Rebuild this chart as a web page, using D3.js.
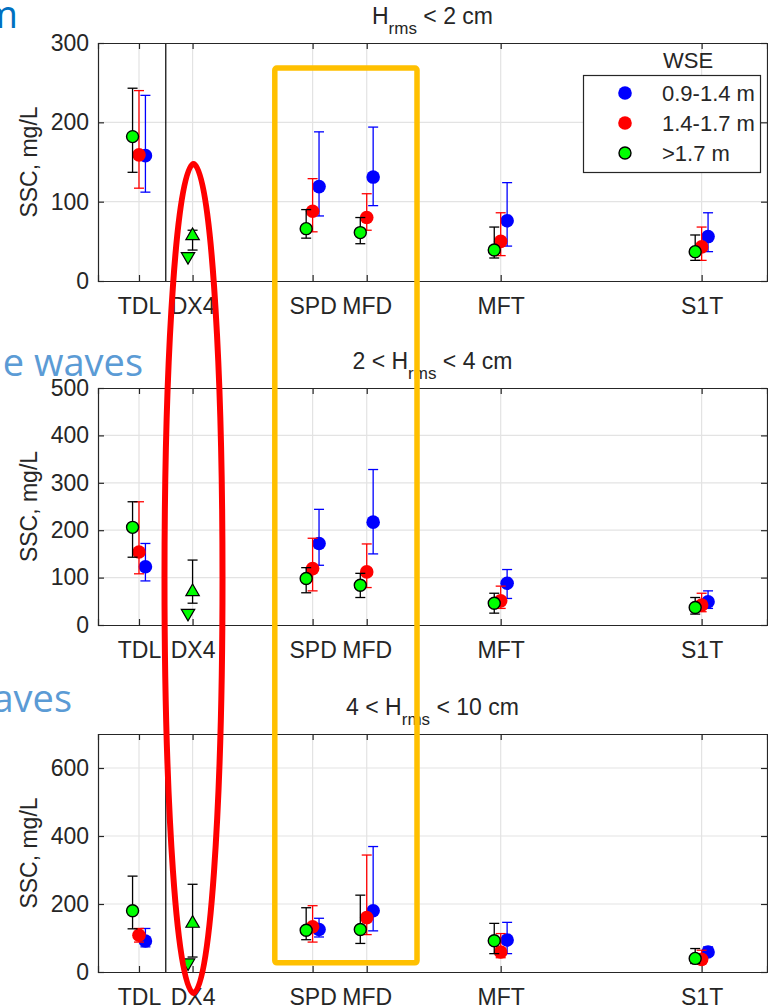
<!DOCTYPE html>
<html>
<head>
<meta charset="utf-8">
<script src="https://cdn.jsdelivr.net/npm/d3@7"></script>
<style>
  html, body { margin: 0; padding: 0; background: #fff; }
  svg { display: block; }
  text { font-family: "Liberation Sans", Arial, Helvetica, sans-serif; fill: #262626; }
</style>
</head>
<body>
<svg id="chart" width="768" height="1008"></svg>
<script>
// Stations along the channel and their plotting positions
const stations = ["TDL", "DX4", "SPD", "MFD", "MFT", "S1T"];
const stationPos = [0, 1, 3.24, 4.25, 6.75, 10.5];
const xDomain = [-0.765, 11.72];
const dividerPos = 0.5;

// Wave-height classes (one panel each)
const panelTitles = [
  { pre: "", sub: "rms", post: " < 2 cm" },
  { pre: "2 < ", sub: "rms", post: " < 4 cm" },
  { pre: "4 < ", sub: "rms", post: " < 10 cm" }
];
const yMax = [300, 500, 700];
const yTicks = [[0, 100, 200, 300], [0, 100, 200, 300, 400, 500], [0, 200, 400, 600]];

// Water-surface elevation classes
const wseLabels = ["0.9-1.4 m", "1.4-1.7 m", ">1.7 m"];
const wseColors = ["#0000ff", "#ff0000", "#00ff00"];
const wseBarColors = ["#0000ff", "#ff0000", "#000000"];
const wseOffset = [0.12, 0, -0.12];

// SSC median [value, low, high] per station (TDL, SPD, MFD, MFT, S1T), per panel
const sscLow = [   // WSE 0.9-1.4 m
  { TDL: [158, 112, 234], SPD: [119, 82, 188], MFD: [131, 95, 194], MFT: [76, 44, 124], S1T: [56, 37, 86] },
  { TDL: [123, 93, 172], SPD: [172, 126, 244], MFD: [217, 150, 328], MFT: [88, 56, 117], S1T: [49, 35, 72] },
  { TDL: [91, 74, 128], SPD: [125, 103, 158], MFD: [180, 121, 369], MFT: [94, 54, 146], S1T: [59, 48, 74] }
];
const sscMid = [   // WSE 1.4-1.7 m
  { TDL: [159, 117, 240], SPD: [88, 62, 129], MFD: [80, 64, 110], MFT: [50, 32, 86], S1T: [43, 26, 68] },
  { TDL: [154, 108, 260], SPD: [119, 72, 183], MFD: [112, 79, 171], MFT: [51, 35, 82], S1T: [42, 28, 67] },
  { TDL: [108, 88, 128], SPD: [133, 88, 195], MFD: [160, 110, 344], MFT: [59, 42, 113], S1T: [37, 25, 64] }
];
const sscHigh = [  // WSE >1.7 m
  { TDL: [182, 137, 243], SPD: [66, 54, 90], MFD: [61, 47, 80], MFT: [39, 29, 68], S1T: [37, 26, 58] },
  { TDL: [206, 143, 260], SPD: [98, 68, 121], MFD: [84, 58, 109], MFT: [46, 25, 67], S1T: [37, 23, 58] },
  { TDL: [180, 127, 282], SPD: [123, 95, 189], MFD: [125, 84, 226], MFT: [92, 54, 143], S1T: [40, 25, 69] }
];

// DX4 (>1.7 m only): upward / downward triangles
const dx4Up = [[57, 39, 64], [70, 46, 137], [143, 44, 258]];
const dx4Down = [31, 25, 27];
const dx4DownShift = -0.085;

// Slide annotations
const sideNotes = [
  { text: "m", x: 18, y: 28, color: "#0070c0" },
  { text: "e waves", x: 143, y: 376, color: "#5b9bd5" },
  { text: "aves", x: 72, y: 712, color: "#5b9bd5" }
];

const svg = d3.select("#chart");
const axisColor = "#262626";
const gridColor = "#e3e3e3";
const left = 98, right = 767;
const panels = [
  { top: 43, bottom: 281 },
  { top: 388, bottom: 625 },
  { top: 734, bottom: 972 }
];

const x = d3.scaleLinear().domain(xDomain).range([left, right]);
const series = [sscLow, sscMid, sscHigh];

panels.forEach((p, pi) => {
  const y = d3.scaleLinear().domain([0, yMax[pi]]).range([p.bottom, p.top]);
  const g = svg.append("g");

  // grid
  g.append("g").selectAll("line").data(yTicks[pi].filter(t => t > 0 && t < yMax[pi]))
    .join("line")
    .attr("x1", left).attr("x2", right)
    .attr("y1", d => y(d)).attr("y2", d => y(d))
    .attr("stroke", gridColor).attr("stroke-width", 1.2);
  g.append("g").selectAll("line").data(stationPos)
    .join("line")
    .attr("x1", d => x(d)).attr("x2", d => x(d))
    .attr("y1", p.top).attr("y2", p.bottom)
    .attr("stroke", gridColor).attr("stroke-width", 1.2);

  // divider between TDL and DX4
  g.append("line")
    .attr("x1", x(dividerPos)).attr("x2", x(dividerPos))
    .attr("y1", p.top).attr("y2", p.bottom)
    .attr("stroke", "#000").attr("stroke-width", 1.2);

  // axes: bottom / top / left / right with inward ticks
  const axB = d3.axisBottom(x).tickValues(stationPos).tickSize(-6).tickFormat((d, i) => stations[i]);
  const axT = d3.axisTop(x).tickValues(stationPos).tickSize(-6).tickFormat("");
  const axL = d3.axisLeft(y).tickValues(yTicks[pi]).tickSize(-6);
  const axR = d3.axisRight(y).tickValues(yTicks[pi]).tickSize(-6).tickFormat("");
  const styleAxis = sel => {
    sel.select(".domain").attr("stroke", axisColor).attr("stroke-width", 1.2);
    sel.selectAll(".tick line").attr("stroke", axisColor).attr("stroke-width", 1.2);
    sel.selectAll(".tick text").attr("fill", axisColor).style("font-size", "23px")
      .style("font-family", "'Liberation Sans', Arial, sans-serif");
  };
  const gb = g.append("g").attr("transform", `translate(0,${p.bottom})`).call(axB).call(styleAxis);
  gb.selectAll(".tick text").attr("dy", null).attr("y", 33);
  g.append("g").attr("transform", `translate(0,${p.top})`).call(axT).call(styleAxis);
  const gl = g.append("g").attr("transform", `translate(${left},0)`).call(axL).call(styleAxis);
  gl.selectAll(".tick text").attr("x", -9);
  g.append("g").attr("transform", `translate(${right},0)`).call(axR).call(styleAxis);

  // y-axis label
  g.append("text")
    .attr("transform", `translate(37,${(p.top + p.bottom) / 2}) rotate(-90)`)
    .attr("text-anchor", "middle")
    .style("font-size", "23px")
    .text("SSC, mg/L");

  // panel title with subscript
  const t = panelTitles[pi];
  const title = g.append("text")
    .attr("x", (left + right) / 2).attr("y", p.top - 19)
    .attr("text-anchor", "middle")
    .style("font-size", "23px").attr("fill", "#000");
  title.append("tspan").text(t.pre + "H");
  title.append("tspan").attr("dy", 10).style("font-size", "17px").text(t.sub);
  title.append("tspan").attr("dy", -10).text(t.post);

  // error bars and markers, drawn 0.9-1.4 first so >1.7 sits on top
  series.forEach((s, si) => {
    const rows = Object.entries(s[pi]).map(([k, v]) => ({
      px: x(stationPos[stations.indexOf(k)] + wseOffset[si]),
      v: v[0], lo: v[1], hi: v[2]
    }));
    const eg = g.append("g");
    const bars = eg.selectAll("g").data(rows).join("g");
    bars.append("line")
      .attr("x1", d => d.px).attr("x2", d => d.px)
      .attr("y1", d => y(d.lo)).attr("y2", d => y(d.hi))
      .attr("stroke", wseBarColors[si]).attr("stroke-width", 1.3);
    ["lo", "hi"].forEach(k => {
      bars.append("line")
        .attr("x1", d => d.px - 5).attr("x2", d => d.px + 5)
        .attr("y1", d => y(d[k])).attr("y2", d => y(d[k]))
        .attr("stroke", wseBarColors[si]).attr("stroke-width", 1.3);
    });
    bars.append("circle")
      .attr("cx", d => d.px).attr("cy", d => y(d.v))
      .attr("r", si === 2 ? 6 : 6.8)
      .attr("fill", wseColors[si])
      .attr("stroke", si === 2 ? "#000" : "none")
      .attr("stroke-width", 1.4);
  });

  // DX4 triangles
  const dxX = x(stationPos[1]);
  const up = dx4Up[pi];
  const tri = d3.symbol().type(d3.symbolTriangle).size(78);
  g.append("line")
    .attr("x1", dxX).attr("x2", dxX).attr("y1", y(up[1])).attr("y2", y(up[2]))
    .attr("stroke", "#000").attr("stroke-width", 1.3);
  [up[1], up[2]].forEach(v => g.append("line")
    .attr("x1", dxX - 5).attr("x2", dxX + 5).attr("y1", y(v)).attr("y2", y(v))
    .attr("stroke", "#000").attr("stroke-width", 1.3));
  g.append("path").attr("d", tri)
    .attr("transform", `translate(${dxX},${y(up[0])})`)
    .attr("fill", "#00ff00").attr("stroke", "#000").attr("stroke-width", 1.2);
  g.append("path").attr("d", tri)
    .attr("transform", `translate(${x(stationPos[1] + dx4DownShift)},${y(dx4Down[pi])}) rotate(180)`)
    .attr("fill", "#00ff00").attr("stroke", "#000").attr("stroke-width", 1.2);

  // legend in first panel
  if (pi === 0) {
    const lg = g.append("g");
    lg.append("text").attr("x", 688).attr("y", 68).attr("text-anchor", "middle")
      .style("font-size", "22px").attr("fill", "#000").text("WSE");
    lg.append("rect").attr("x", 583.5).attr("y", 75.5).attr("width", 177).attr("height", 97)
      .attr("fill", "#fff").attr("stroke", axisColor).attr("stroke-width", 1.2);
    const ent = lg.selectAll("g.e").data(wseLabels).join("g").attr("class", "e")
      .attr("transform", (d, i) => `translate(0,${93 + i * 30})`);
    ent.append("circle").attr("cx", 625).attr("cy", 0)
      .attr("r", (d, i) => i === 2 ? 6 : 6.8)
      .attr("fill", (d, i) => wseColors[i])
      .attr("stroke", (d, i) => i === 2 ? "#000" : "none").attr("stroke-width", 1.4);
    ent.append("text").attr("x", 662).attr("y", 7.5)
      .style("font-size", "22px").attr("fill", "#000").text(d => d);
  }
});

// highlight overlays
svg.append("rect")
  .attr("x", 274.8).attr("y", 68).attr("width", 142.2).attr("height", 894.8)
  .attr("rx", 2).attr("fill", "none").attr("stroke", "#ffc000").attr("stroke-width", 5.5);
svg.append("ellipse")
  .attr("cx", 193.5).attr("cy", 578.5).attr("rx", 29).attr("ry", 414.5)
  .attr("fill", "none").attr("stroke", "#ff0000").attr("stroke-width", 6);

// slide annotations
svg.selectAll("text.note").data(sideNotes).join("text").attr("class", "note")
  .attr("x", d => d.x).attr("y", d => d.y).attr("text-anchor", "end")
  .style("font-family", "'Open Sans', sans-serif").style("font-size", "38px")
  .style("fill", d => d.color).text(d => d.text);
</script>
</body>
</html>
